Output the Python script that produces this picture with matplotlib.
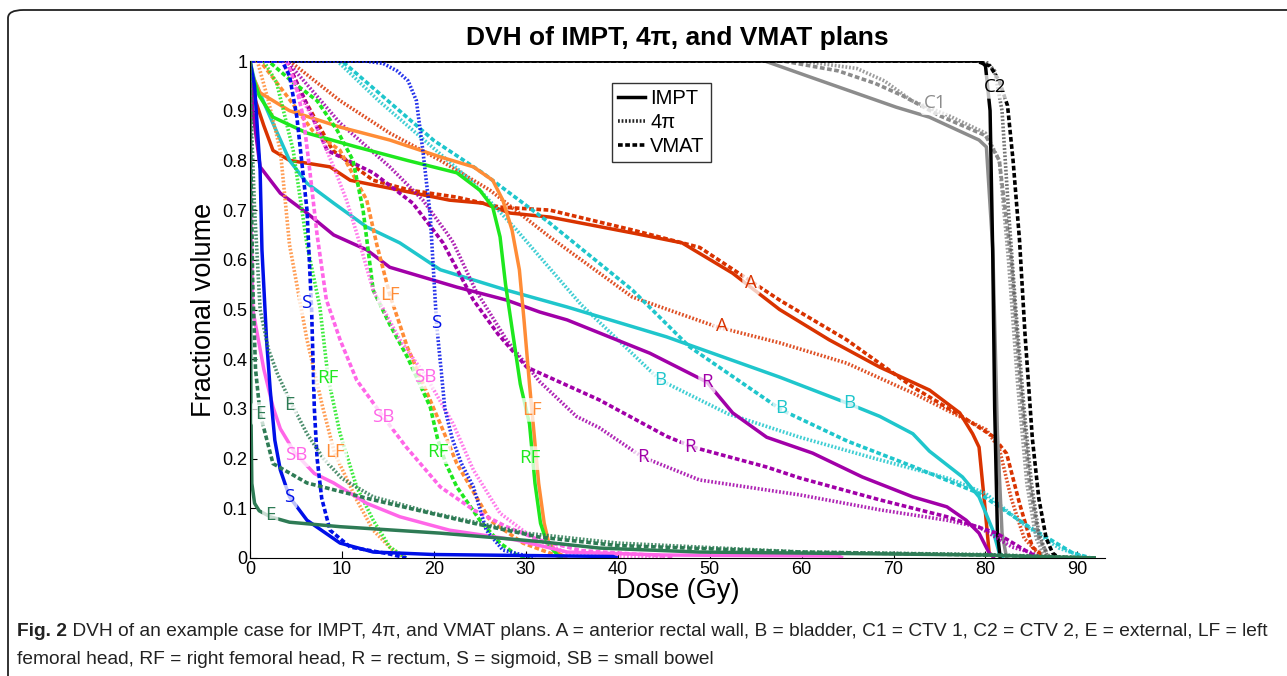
import matplotlib
matplotlib.use("Agg")
import matplotlib.pyplot as plt
from matplotlib.lines import Line2D
from matplotlib.patches import FancyBboxPatch
from matplotlib import font_manager

# ---- data (dose in Gy, fractional volume) ----
a_impt_dose = [0, 0.2, 0.6, 1.5, 2.5, 4.3, 8.7, 10.9, 16.3, 21.7, 25.3, 28.3, 32.6, 41.6, 47, 52.5, 57.6, 63, 68.5, 73.9, 77.2, 78.6, 79.3, 79.9, 80.4, 81]
a_impt_vol = [1, 0.96, 0.92, 0.87, 0.82, 0.80, 0.787, 0.76, 0.74, 0.72, 0.714, 0.694, 0.686, 0.654, 0.634, 0.573, 0.5, 0.439, 0.384, 0.338, 0.292, 0.25, 0.223, 0.11, 0.01, 0]
a_4pi_dose = [0, 4.3, 9.8, 15.2, 20.7, 26.1, 32.6, 41.6, 50.8, 57.6, 64.9, 72.1, 76.4, 80.1, 81.5, 82.8, 84.2, 86.2]
a_4pi_vol = [1, 1, 0.92, 0.855, 0.80, 0.74, 0.646, 0.525, 0.465, 0.433, 0.392, 0.332, 0.292, 0.258, 0.22, 0.12, 0.04, 0]
a_vmat_dose = [0, 4, 6, 9, 13.4, 17.4, 22.5, 27.2, 32.6, 41.6, 48.9, 57.6, 64.9, 72.1, 77.5, 80.8, 82.3, 83.7, 85.1, 86.6]
a_vmat_vol = [1, 1, 0.92, 0.82, 0.76, 0.74, 0.726, 0.706, 0.70, 0.66, 0.625, 0.519, 0.439, 0.344, 0.284, 0.245, 0.21, 0.11, 0.022, 0]

b_impt_dose = [0, 0.5, 2.2, 4.3, 6.2, 9.1, 12.7, 16.3, 20.7, 27.9, 34.5, 45.3, 57.6, 64.9, 68.5, 72.1, 73.9, 77.5, 79.3, 80.8, 81.5, 82]
b_impt_vol = [1, 0.96, 0.887, 0.80, 0.754, 0.714, 0.666, 0.634, 0.58, 0.539, 0.505, 0.445, 0.364, 0.312, 0.285, 0.25, 0.215, 0.163, 0.123, 0.056, 0.01, 0]
b_4pi_dose = [0, 9.5, 14, 19, 24, 29, 36, 44.6, 52, 59.8, 68, 76, 80, 84, 88, 91]
b_4pi_vol = [1, 1, 0.92, 0.84, 0.76, 0.66, 0.51, 0.358, 0.29, 0.243, 0.2, 0.16, 0.13, 0.07, 0.02, 0]
b_vmat_dose = [0, 10, 15, 20, 25.3, 32.6, 41.6, 47.8, 57.8, 65, 72, 79.3, 84.8, 89.5, 91.5]
b_vmat_vol = [1, 1, 0.92, 0.84, 0.775, 0.674, 0.539, 0.425, 0.298, 0.235, 0.185, 0.13, 0.062, 0.01, 0]

c1_impt_dose = [0, 56, 61.2, 64.9, 70.3, 73.9, 79.3, 80.1, 80.8, 81.3, 81.8, 82.3]
c1_impt_vol = [1, 1, 0.966, 0.942, 0.907, 0.887, 0.841, 0.827, 0.62, 0.25, 0.05, 0]
c1_4pi_dose = [0, 60, 66, 69, 72, 76, 80, 81.5, 82.5, 83.5, 84.5, 85.5, 86.5]
c1_4pi_vol = [1, 1, 0.985, 0.96, 0.92, 0.89, 0.855, 0.8, 0.6, 0.35, 0.15, 0.04, 0]
c1_vmat_dose = [0, 58, 64, 68, 71, 75, 80, 81.5, 82.8, 83.8, 84.8, 85.8, 87]
c1_vmat_vol = [1, 1, 0.98, 0.955, 0.93, 0.89, 0.85, 0.8, 0.6, 0.35, 0.15, 0.04, 0]

c2_impt_dose = [0, 79.5, 80.0, 80.5, 80.8, 81.0, 81.3, 81.6]
c2_impt_vol = [1, 1, 0.99, 0.9, 0.6, 0.3, 0.05, 0]
c2_4pi_dose = [0, 80, 81, 81.8, 82.5, 83.3, 84.2, 85.0, 85.8, 86.8]
c2_4pi_vol = [1, 1, 0.98, 0.9, 0.7, 0.5, 0.3, 0.15, 0.05, 0]
c2_vmat_dose = [0, 79, 80.5, 81.5, 82.4, 83.0, 83.7, 84.3, 85.1, 85.8, 86.6, 87.3, 88.0]
c2_vmat_vol = [1, 1, 0.99, 0.96, 0.91, 0.8, 0.64, 0.45, 0.24, 0.12, 0.04, 0.01, 0]

e_impt_dose = [0, 0.05, 0.1, 0.2, 0.5, 1, 2.2, 4.3, 9.8, 20.7, 27.2, 31.5, 38, 48.9, 59.8, 70, 80, 85, 92]
e_impt_vol = [1, 0.6, 0.3, 0.15, 0.11, 0.095, 0.083, 0.072, 0.063, 0.05, 0.04, 0.033, 0.02, 0.012, 0.01, 0.008, 0.006, 0.003, 0]
e_4pi_dose = [0, 0.2, 0.5, 1.1, 2, 3, 4.3, 6.2, 8, 10, 13.4, 20, 30, 40, 60, 80, 92]
e_4pi_vol = [1, 0.85, 0.7, 0.5, 0.42, 0.37, 0.318, 0.25, 0.2, 0.16, 0.123, 0.09, 0.05, 0.03, 0.012, 0.007, 0]
e_vmat_dose = [0, 0.1, 0.3, 0.6, 1.1, 2.5, 6.2, 13.4, 24.3, 31.5, 40, 60, 80, 92]
e_vmat_vol = [1, 0.8, 0.55, 0.38, 0.29, 0.19, 0.151, 0.117, 0.07, 0.042, 0.025, 0.012, 0.006, 0]

lf_impt_dose = [0, 0.3, 1.1, 4.3, 9.8, 15.2, 20.7, 24.3, 26.4, 27.5, 28.5, 29.3, 29.8, 30.4, 30.9, 31.4, 32, 32.5, 33.5, 34.5]
lf_impt_vol = [1, 0.97, 0.936, 0.90, 0.867, 0.841, 0.807, 0.787, 0.76, 0.72, 0.66, 0.58, 0.48, 0.35, 0.25, 0.15, 0.07, 0.03, 0.01, 0]
lf_4pi_dose = [0, 0.8, 2, 3.3, 4.3, 6.2, 7.9, 9.2, 11.6, 13.4, 15.5, 17]
lf_4pi_vol = [1, 1, 0.92, 0.82, 0.63, 0.439, 0.304, 0.211, 0.117, 0.056, 0.016, 0]
lf_vmat_dose = [0, 1.1, 4, 6.8, 9.8, 12.7, 13.8, 15.2, 17.1, 20.7, 22.5, 26.1, 29.7, 32.6, 34]
lf_vmat_vol = [1, 1, 0.93, 0.86, 0.82, 0.72, 0.63, 0.53, 0.425, 0.27, 0.19, 0.076, 0.03, 0.01, 0]

rf_impt_dose = [0, 0.3, 1, 2.5, 6.2, 11.6, 17.1, 22.5, 25, 26.4, 27.2, 27.8, 28.6, 29.4, 30.4, 31.0, 31.6, 32.3, 33.5, 34]
rf_impt_vol = [1, 0.97, 0.93, 0.887, 0.855, 0.827, 0.80, 0.775, 0.74, 0.706, 0.646, 0.55, 0.45, 0.35, 0.27, 0.15, 0.07, 0.03, 0.005, 0]
rf_4pi_dose = [0, 1.5, 2.9, 4.7, 6.2, 7.6, 8.5, 9.8, 11.6, 13.4, 15.2, 17]
rf_4pi_vol = [1, 1, 0.956, 0.82, 0.63, 0.505, 0.362, 0.25, 0.143, 0.076, 0.022, 0]
rf_vmat_dose = [0, 2, 4.5, 7.3, 9.5, 11.2, 12.3, 13.4, 15.2, 17.1, 19.6, 20.4, 21.3, 22.5, 25, 27.2, 29, 30.5]
rf_vmat_vol = [1, 1, 0.96, 0.92, 0.86, 0.80, 0.70, 0.539, 0.47, 0.405, 0.304, 0.24, 0.19, 0.143, 0.076, 0.03, 0.006, 0]

r_impt_dose = [0, 0.3, 1.1, 3.3, 6.2, 9.1, 12.7, 15.2, 22.5, 27.9, 31.5, 34.5, 43.5, 49.7, 52.5, 56.2, 61.2, 66.6, 72.1, 75.8, 77.9, 79.3, 80.4, 81]
r_impt_vol = [1, 0.9, 0.787, 0.734, 0.694, 0.65, 0.62, 0.585, 0.545, 0.519, 0.495, 0.479, 0.412, 0.354, 0.292, 0.243, 0.211, 0.163, 0.123, 0.103, 0.076, 0.05, 0.01, 0]
r_4pi_dose = [0, 4, 9.8, 15.2, 18.8, 21.4, 22.1, 24.5, 27.9, 31.5, 35.5, 38, 42.7, 48.9, 59.8, 68.5, 75.8, 79.3, 82.9, 85.1, 86]
r_4pi_vol = [1, 1, 0.875, 0.787, 0.72, 0.654, 0.635, 0.54, 0.439, 0.355, 0.285, 0.262, 0.203, 0.157, 0.127, 0.097, 0.076, 0.062, 0.022, 0.01, 0]
r_vmat_dose = [0, 4, 6, 8.4, 13.4, 17.7, 21, 24.3, 27, 30.1, 38, 45.3, 48.2, 56.2, 59.8, 68.5, 75.8, 81.2, 84.8, 86]
r_vmat_vol = [1, 1, 0.92, 0.82, 0.775, 0.714, 0.634, 0.519, 0.45, 0.384, 0.318, 0.245, 0.223, 0.183, 0.161, 0.117, 0.083, 0.05, 0.01, 0]

s_impt_dose = [0, 0.5, 1.1, 1.3, 1.8, 2.2, 2.7, 3.3, 4.3, 6.2, 9.8, 13.4, 20, 30, 39.5, 40]
s_impt_vol = [1, 0.95, 0.78, 0.62, 0.439, 0.338, 0.237, 0.177, 0.123, 0.076, 0.03, 0.012, 0.007, 0.005, 0.003, 0]
s_4pi_dose = [0, 12.5, 14.5, 16, 17.2, 18.1, 18.8, 19.6, 20.3, 21.2, 22, 23, 24.3, 25.7, 27.5, 29.7, 31]
s_4pi_vol = [1, 1, 0.995, 0.98, 0.96, 0.92, 0.82, 0.69, 0.47, 0.3, 0.24, 0.19, 0.143, 0.056, 0.016, 0.006, 0]
s_vmat_dose = [0, 3.5, 4.3, 5.1, 6.2, 6.7, 7.0, 7.3, 7.8, 8.7, 10.9, 15.2, 17]
s_vmat_vol = [1, 1, 0.97, 0.887, 0.7, 0.5, 0.3, 0.2, 0.12, 0.056, 0.022, 0.008, 0]

sb_impt_dose = [0, 0.1, 0.3, 1.5, 2.5, 3.3, 4.9, 7, 9.1, 12.7, 16.3, 21.7, 29, 34.5, 45, 64, 64.5]
sb_impt_vol = [1, 0.7, 0.5, 0.38, 0.304, 0.26, 0.211, 0.17, 0.151, 0.11, 0.083, 0.056, 0.036, 0.012, 0.006, 0.004, 0]
sb_4pi_dose = [0, 3.5, 4.5, 6.8, 9.1, 10.5, 11.6, 13.4, 16.3, 19.2, 22.1, 24.3, 27.2, 30.8, 34.5, 40, 45]
sb_4pi_vol = [1, 1, 0.96, 0.887, 0.787, 0.72, 0.654, 0.539, 0.439, 0.364, 0.27, 0.177, 0.09, 0.04, 0.01, 0.004, 0]
sb_vmat_dose = [0, 4, 5, 5.8, 6.5, 7.3, 8.3, 9.8, 11.6, 14.5, 17, 20.7, 24.3, 27.9, 31.5, 36, 45, 46]
sb_vmat_vol = [1, 1, 0.95, 0.887, 0.78, 0.65, 0.52, 0.439, 0.358, 0.284, 0.223, 0.143, 0.097, 0.063, 0.036, 0.015, 0.004, 0]

# curve labels: text, dose, volume
label_text = ["A", "A", "B", "B", "B", "C1", "C2", "E", "E", "E",
              "LF", "LF", "LF", "RF", "RF", "RF", "R", "R", "R",
              "S", "S", "S", "SB", "SB", "SB"]
label_x = [54.5, 51.3, 44.6, 57.8, 65.2, 74.5, 81.0, 1.1, 4.3, 2.2,
           15.2, 9.2, 30.7, 8.5, 20.4, 30.4, 49.7, 47.8, 42.7,
           6.1, 20.3, 4.3, 14.5, 19.1, 5.0]
label_y = [0.553, 0.467, 0.358, 0.302, 0.312, 0.915, 0.948, 0.29, 0.308, 0.087,
           0.529, 0.213, 0.298, 0.362, 0.213, 0.201, 0.354, 0.223, 0.203,
           0.513, 0.473, 0.123, 0.284, 0.364, 0.207]

colors = {
    "A": "#d93300", "B": "#1fc6cc", "C1": "#8c8c8c", "C2": "#000000",
    "E": "#2e7b55", "LF": "#ff8c36", "RF": "#1ee81e", "R": "#a100a8",
    "S": "#0010e8", "SB": "#ff66e8",
}
c2_dotted_color = "#5a5a5a"

W, H = 1287, 676
fig = plt.figure(figsize=(W / 100, H / 100), dpi=100)
ax = fig.add_axes([250 / W, 1 - 558 / H, 855 / W, 497 / H])

solid = dict(linestyle="-", linewidth=2.5)
dotted = dict(linestyle=(0, (0.5, 0.5)), linewidth=2.6, alpha=0.85)
dashed = dict(linestyle=(0, (1.3, 0.7)), linewidth=2.6)

curves = [
    ("A", a_4pi_dose, a_4pi_vol, dotted), ("A", a_vmat_dose, a_vmat_vol, dashed), ("A", a_impt_dose, a_impt_vol, solid),
    ("B", b_4pi_dose, b_4pi_vol, dotted), ("B", b_vmat_dose, b_vmat_vol, dashed), ("B", b_impt_dose, b_impt_vol, solid),
    ("C1", c1_4pi_dose, c1_4pi_vol, dotted), ("C1", c1_vmat_dose, c1_vmat_vol, dashed), ("C1", c1_impt_dose, c1_impt_vol, solid),
    ("C2", c2_4pi_dose, c2_4pi_vol, dotted), ("C2", c2_vmat_dose, c2_vmat_vol, dashed), ("C2", c2_impt_dose, c2_impt_vol, solid),
    ("R", r_4pi_dose, r_4pi_vol, dotted), ("R", r_vmat_dose, r_vmat_vol, dashed), ("R", r_impt_dose, r_impt_vol, solid),
    ("LF", lf_4pi_dose, lf_4pi_vol, dotted), ("LF", lf_vmat_dose, lf_vmat_vol, dashed), ("LF", lf_impt_dose, lf_impt_vol, solid),
    ("RF", rf_4pi_dose, rf_4pi_vol, dotted), ("RF", rf_vmat_dose, rf_vmat_vol, dashed), ("RF", rf_impt_dose, rf_impt_vol, solid),
    ("SB", sb_4pi_dose, sb_4pi_vol, dotted), ("SB", sb_vmat_dose, sb_vmat_vol, dashed), ("SB", sb_impt_dose, sb_impt_vol, solid),
    ("S", s_4pi_dose, s_4pi_vol, dotted), ("S", s_vmat_dose, s_vmat_vol, dashed), ("S", s_impt_dose, s_impt_vol, solid),
    ("E", e_4pi_dose, e_4pi_vol, dotted), ("E", e_vmat_dose, e_vmat_vol, dashed), ("E", e_impt_dose, e_impt_vol, solid),
]
for name, d, v, style in curves:
    col = colors[name]
    if name == "C2" and style is dotted:
        col = c2_dotted_color
    ax.plot(d, v, color=col, solid_capstyle="butt", dash_capstyle="butt", **style)

for t, x, y in zip(label_text, label_x, label_y):
    ax.text(x, y, t, color=colors[t], fontsize=13.5, family="Open Sans",
            ha="center", va="center", zorder=5,
            bbox=dict(boxstyle="round,pad=0.15", fc="white", ec="none", alpha=0.75))

ax.set_xlim(0, 93)
ax.set_ylim(0, 1)
ax.set_xticks(range(0, 91, 10))
ax.set_yticks([i / 10 for i in range(11)])
ax.set_yticklabels(["0"] + ["0.%d" % i for i in range(1, 10)] + ["1"])
ax.tick_params(direction="in", length=5, labelsize=13, colors="black", pad=2)
for lbl in ax.get_xticklabels() + ax.get_yticklabels():
    lbl.set_family("Liberation Sans")
ax.spines["top"].set_visible(False)
ax.spines["right"].set_visible(False)
ax.set_xlabel("Dose (Gy)", fontsize=19.5, family="Liberation Sans", labelpad=0)
ax.set_ylabel("Fractional volume", fontsize=19.5, family="Liberation Sans", labelpad=4)

fig.text(677 / W, 1 - 38 / H, "DVH of IMPT, 4\u03c0, and VMAT plans", ha="center", va="center",
         fontsize=19, fontweight="bold", family="Liberation Sans")

handles = [Line2D([], [], color="black", **solid),
           Line2D([], [], color="black", **dotted),
           Line2D([], [], color="black", **dashed)]
leg = ax.legend(handles, ["IMPT", "4\u03c0", "VMAT"], loc="upper left",
                bbox_to_anchor=(612 / W, 1 - 83 / H), bbox_transform=fig.transFigure,
                prop=dict(family="Liberation Sans", size=14.5), frameon=True, fancybox=False,
                edgecolor="black", handlelength=1.35, handletextpad=0.25, borderpad=0.3,
                labelspacing=0.25, borderaxespad=0)
leg.get_frame().set_linewidth(1.0)

# border round the whole figure (only left and top edges visible)
border = FancyBboxPatch((8 / W, -0.1), 1.2, 1 - 10 / H + 0.1, boxstyle="round,pad=0,rounding_size=0.012",
                        transform=fig.transFigure, fc="none", ec="#222222", lw=1.3, clip_on=False)
fig.patches.append(border)

# caption
names = {f.name for f in font_manager.fontManager.ttflist}
cap_font = "Liberation Sans Narrow" if "Liberation Sans Narrow" in names else "Liberation Sans"
line1 = (" DVH of an example case for IMPT, 4\u03c0, and VMAT plans. A = anterior rectal wall, "
         "B = bladder, C1 = CTV 1, C2 = CTV 2, E = external, LF = left")
line2 = "femoral head, RF = right femoral head, R = rectum, S = sigmoid, SB = small bowel"
size = 12.5
x0 = 17 / W
fig_bold = fig.text(x0, 1 - 632 / H, "Fig. 2", fontsize=size, fontweight="bold", family=cap_font,
                    va="center", color="#222222")
fig.canvas.draw()
renderer = fig.canvas.get_renderer()
bw = fig_bold.get_window_extent(renderer).width
rest = fig.text(x0 + bw / W, 1 - 632 / H, line1, fontsize=size, family=cap_font, va="center", color="#222222")
fig.canvas.draw()
total = bw + rest.get_window_extent(renderer).width
scale = (1270 - 17) / total
size = size * scale
fig_bold.set_fontsize(size)
fig.canvas.draw()
bw = fig_bold.get_window_extent(renderer).width
rest.set_fontsize(size)
rest.set_x(x0 + bw / W)
fig.text(x0, 1 - 660 / H, line2, fontsize=size, family=cap_font, va="center", color="#222222")

fig.savefig("out.png", dpi=100)
